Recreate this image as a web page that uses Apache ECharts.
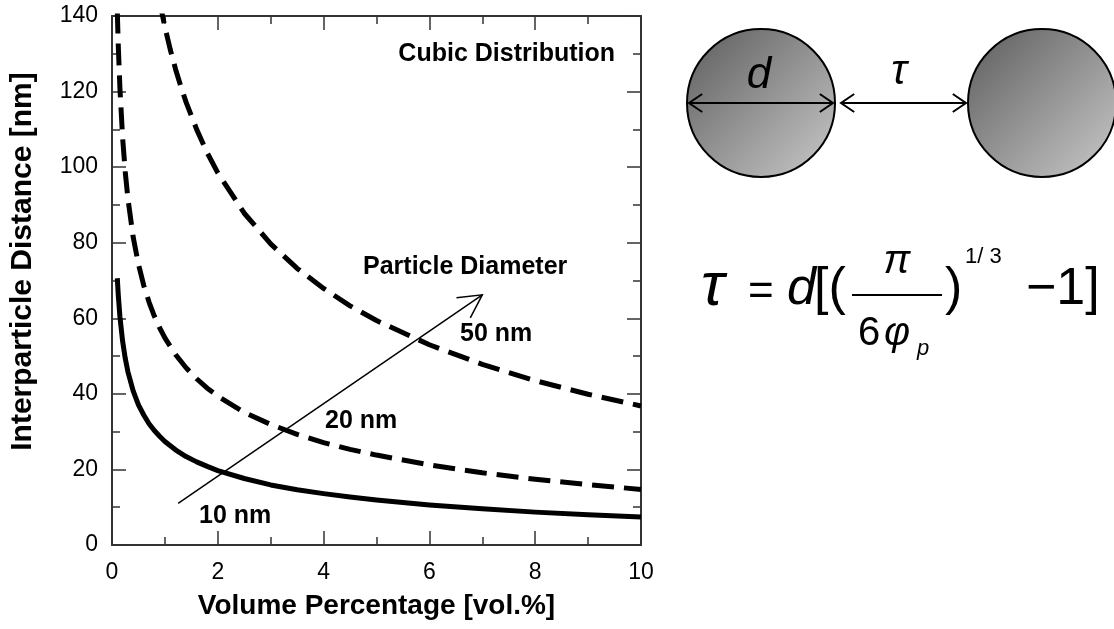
<!DOCTYPE html>
<html>
<head>
<meta charset="utf-8">
<script src="https://cdn.jsdelivr.net/npm/echarts@6/dist/echarts.min.js"></script>
<style>
html,body{margin:0;padding:0;background:#fff;}
#main{width:1114px;height:629px;}
</style>
</head>
<body>
<div id="main"></div>
<script>
// ---- data ----
const volPct = [0.1, 0.12, 0.15, 0.2, 0.25, 0.3, 0.4, 0.5, 0.6, 0.7, 0.8, 0.9, 1, 1.2, 1.4, 1.6, 1.8, 2, 2.5, 3, 3.5, 4, 4.5, 5, 6, 7, 8, 9, 10];
const dist10nm = [70.6, 65.9, 60.4, 54.0, 49.4, 45.9, 40.8, 37.1, 34.4, 32.1, 30.3, 28.8, 27.4, 25.2, 23.4, 22.0, 20.8, 19.7, 17.6, 15.9, 14.6, 13.6, 12.7, 11.9, 10.6, 9.6, 8.7, 8.0, 7.4];
const dist20nm = [141.2, 131.7, 120.8, 107.9, 98.8, 91.8, 81.5, 74.3, 68.7, 64.3, 60.6, 57.5, 54.8, 50.4, 46.9, 44.0, 41.5, 39.4, 35.1, 31.9, 29.3, 27.1, 25.3, 23.8, 21.2, 19.1, 17.4, 16.0, 14.7];
const volPct50 = [0.9, 1, 1.1, 1.2, 1.3, 1.4, 1.6, 1.8, 2, 2.5, 3, 3.5, 4, 4.5, 5, 6, 7, 8, 9, 10];
const dist50nm = [143.8, 137.1, 131.2, 126.0, 121.4, 117.2, 110.0, 103.8, 98.5, 87.8, 79.7, 73.2, 67.9, 63.3, 59.4, 53.0, 47.8, 43.5, 39.9, 36.8];
const arrowStart = [1.25, 11.0];
const arrowEnd = [7.0, 66.2];
const xLabel = 'Volume Percentage [vol.%]';
const yLabel = 'Interparticle Distance [nm]';

const FONT = '"Liberation Sans", Arial, sans-serif';
const chart = echarts.init(document.getElementById('main'), null, {renderer: 'canvas'});

function pairs(xs, ys) { return xs.map((x, i) => [x, ys[i]]); }

const axisLineStyle = {color: '#333', width: 2};
function xAx(pos, labels) {
  return {
    type: 'value', position: pos, min: 0, max: 10, interval: 2,
    axisLine: {show: true, onZero: false, lineStyle: axisLineStyle},
    axisTick: {show: true, inside: true, length: 14, lineStyle: {color: '#333', width: 1.5}},
    minorTick: {show: true, splitNumber: 2, length: 8, lineStyle: {color: '#333', width: 1.5}},
    splitLine: {show: false},
    axisLabel: {show: labels, margin: 16, color: '#000', fontSize: 23, fontFamily: FONT},
    name: labels ? xLabel : '', nameLocation: 'middle', nameGap: 47,
    nameTextStyle: {fontSize: 28, fontWeight: 'bold', color: '#000', fontFamily: FONT}
  };
}
function yAx(pos, labels) {
  return {
    type: 'value', position: pos, min: 0, max: 140, interval: 20,
    axisLine: {show: true, onZero: false, lineStyle: axisLineStyle},
    axisTick: {show: true, inside: true, length: 14, lineStyle: {color: '#333', width: 1.5}},
    minorTick: {show: true, splitNumber: 2, length: 8, lineStyle: {color: '#333', width: 1.5}},
    splitLine: {show: false},
    axisLabel: {show: labels, margin: 14, color: '#000', fontSize: 23, fontFamily: FONT},
    name: labels ? yLabel : '', nameLocation: 'middle', nameGap: 74, nameRotate: 90,
    nameTextStyle: {fontSize: 30, fontWeight: 'bold', color: '#000', fontFamily: FONT, padding: [0, 0, 0, 38]}
  };
}

const curveStyle = (dash) => ({color: '#000', width: 5, type: dash ? [22, 10] : 'solid', cap: 'butt', join: 'round'});

chart.setOption({
  animation: false,
  backgroundColor: '#fff',
  grid: {left: 112, right: 473, top: 16, bottom: 84, containLabel: false},
  xAxis: [xAx('bottom', true), xAx('top', false)],
  yAxis: [yAx('left', true), yAx('right', false)],
  series: [
    {type: 'line', name: '10 nm', data: pairs(volPct, dist10nm), showSymbol: false, clip: true, lineStyle: curveStyle(false), silent: true},
    {type: 'line', name: '20 nm', data: pairs(volPct, dist20nm), showSymbol: false, clip: true, lineStyle: curveStyle(true), silent: true},
    {type: 'line', name: '50 nm', data: pairs(volPct50, dist50nm), showSymbol: false, clip: true, lineStyle: curveStyle(true), silent: true},
    {type: 'line', name: 'arrow', data: [arrowStart, arrowEnd], showSymbol: false, clip: true, lineStyle: {color: '#000', width: 1.5}, silent: true}
  ]
});

// ---- graphics: annotations, arrowhead, schematic and formula ----
const g = [];
function txt(text, x, baseline, size, opts) {
  opts = opts || {};
  g.push({
    type: 'text', z: 100,
    style: {
      text: text, x: x, y: baseline - 0.35 * size,
      font: (opts.italic ? 'italic ' : '') + (opts.bold ? 'bold ' : '') + size + 'px ' + FONT,
      fill: '#000', textAlign: opts.align || 'left', textVerticalAlign: 'middle'
    }
  });
}
function poly(points, w) {
  g.push({type: 'polyline', z: 100, shape: {points: points}, style: {stroke: '#000', lineWidth: w || 2, fill: null}});
}
function chevron(tip, dir, len, half, w) {
  const back = Math.atan2(-dir[1], -dir[0]);
  const a1 = back + half, a2 = back - half;
  poly([[tip[0] + len * Math.cos(a1), tip[1] + len * Math.sin(a1)], tip, [tip[0] + len * Math.cos(a2), tip[1] + len * Math.sin(a2)]], w);
}
function dblArrow(x1, x2, y) {
  poly([[x1, y], [x2, y]], 2);
  chevron([x1, y], [-1, 0], 16, 0.6, 2);
  chevron([x2, y], [1, 0], 16, 0.6, 2);
}

// arrowhead for "Particle Diameter" arrow
const p0 = chart.convertToPixel({xAxisIndex: 0, yAxisIndex: 0}, arrowStart);
const p1 = chart.convertToPixel({xAxisIndex: 0, yAxisIndex: 0}, arrowEnd);
const L = Math.hypot(p1[0] - p0[0], p1[1] - p0[1]);
chevron(p1, [(p1[0] - p0[0]) / L, (p1[1] - p0[1]) / L], 26, 0.49, 1.5);

// annotations inside the plot
txt('Cubic Distribution', 615, 63, 25, {bold: true, align: 'right'});
txt('Particle Diameter', 363, 276, 25, {bold: true});
txt('50 nm', 460, 343, 25, {bold: true});
txt('20 nm', 325, 430, 25, {bold: true});
txt('10 nm', 199, 525, 25, {bold: true});

// schematic: two particles
const grad = () => new echarts.graphic.LinearGradient(0, 0, 1, 1, [
  {offset: 0, color: '#5c5c5c'}, {offset: 1, color: '#cacaca'}
]);
g.push({type: 'circle', z: 90, shape: {cx: 761, cy: 103, r: 74}, style: {fill: grad(), stroke: '#000', lineWidth: 2}});
g.push({type: 'circle', z: 90, shape: {cx: 1042, cy: 103, r: 74}, style: {fill: grad(), stroke: '#000', lineWidth: 2}});
dblArrow(689, 833, 103);
dblArrow(841, 966, 103);
txt('d', 759, 91, 44, {italic: true, align: 'center'});
txt('\u03C4', 899, 87, 42, {italic: true, align: 'center'});

// formula
txt('\u03C4', 701, 309, 62, {italic: true});
txt('=', 748, 308, 44);
txt('d', 787, 308, 52, {italic: true});
txt('[(', 814, 308, 52);
txt('\u03C0', 897, 276, 40, {italic: true, align: 'center'});
poly([[852, 295], [942, 295]], 2);
txt('6', 858, 348, 40);
txt('\u03C6', 884, 348, 40, {italic: true});
txt('p', 917, 357, 22, {italic: true});
txt(')', 945, 308, 52);
txt('1/ 3', 965, 265, 22);
txt('\u22121]', 1026, 308, 52);

chart.setOption({graphic: g});
</script>
</body>
</html>
